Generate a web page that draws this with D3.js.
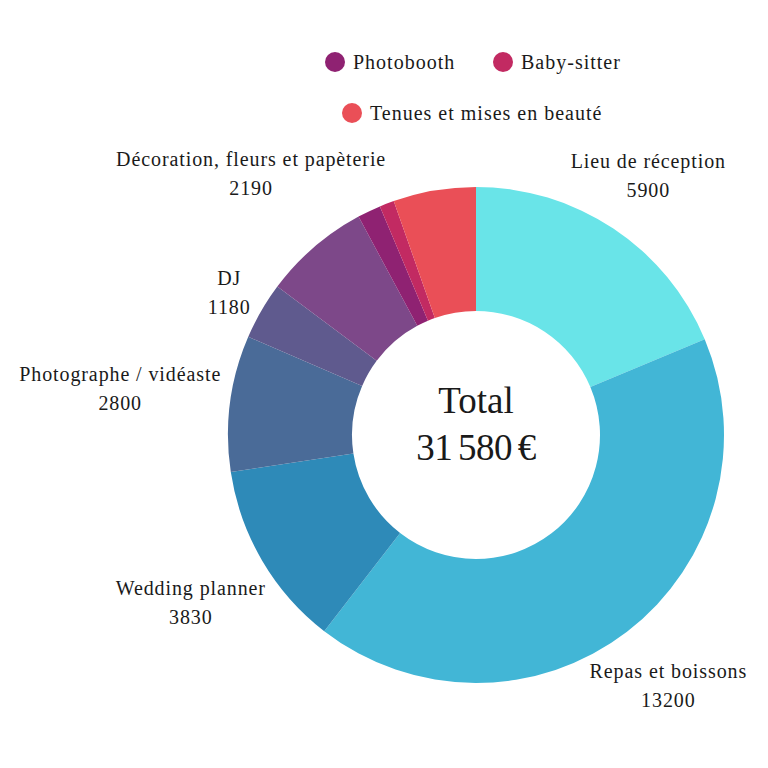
<!DOCTYPE html>
<html>
<head>
<meta charset="utf-8">
<script src="https://cdn.jsdelivr.net/npm/d3@7"></script>
<style>
  body { margin: 0; background: #fff; }
  text { font-family: "Liberation Serif", serif; fill: #1a1a1a; }
</style>
</head>
<body>
<svg id="chart" width="768" height="768"></svg>
<script>
// postes de budget, dans le sens horaire depuis midi
var categories = ["Lieu de réception", "Repas et boissons", "Wedding planner", "Photographe / vidéaste",
    "DJ", "Décoration, fleurs et papèterie", "Photobooth", "Baby-sitter", "Tenues et mises en beauté"];
var values = [5900, 13200, 3830, 2800, 1180, 2190, 480, 300, 1700];
var colors = ["#69e4e8", "#42b6d6", "#2e8ab8", "#4a6b98", "#5f5a8e", "#7d4889", "#8f2272", "#c22a62", "#ea4f57"];
var labelled = ["Lieu de réception", "Repas et boissons", "Wedding planner", "Photographe / vidéaste",
    "DJ", "Décoration, fleurs et papèterie"];
var legendItems = ["Photobooth", "Baby-sitter", "Tenues et mises en beauté"];
var totalLabel = "31 580 €";

var svg = d3.select("#chart");
var cx = 476, cy = 435;
var outerR = 248, innerR = 124, labelR = 256;

var data = categories.map(function (c, i) { return {name: c, value: values[i]}; });
var color = d3.scaleOrdinal().domain(categories).range(colors);

var pie = d3.pie().value(function (d) { return d.value; }).sort(null);
var arc = d3.arc().innerRadius(innerR).outerRadius(outerR);
var arcs = pie(data);

var g = svg.append("g").attr("transform", "translate(" + cx + "," + cy + ")");
g.selectAll(".slice").data(arcs).enter().append("path")
    .attr("class", "slice")
    .attr("d", arc)
    .attr("fill", function (d) { return color(d.data.name); });

// total au centre
g.append("text").attr("text-anchor", "middle").attr("y", -22).attr("font-size", "37px").text("Total");
g.append("text").attr("text-anchor", "middle").attr("y", 25).attr("font-size", "37px")
    .attr("word-spacing", "-3px").attr("letter-spacing", "-0.5px").text(totalLabel);

// distance du centre au point le plus proche d'une boite
function nearest(x, y, w, h) {
    var dx = Math.max(0, Math.abs(x) - w / 2), dy = Math.max(0, Math.abs(y) - h / 2);
    return Math.sqrt(dx * dx + dy * dy);
}

// etiquettes exterieures : centre sur le rayon median, boite poussee hors du cercle labelR
arcs.filter(function (d) { return labelled.indexOf(d.data.name) >= 0; }).forEach(function (d) {
    var a = (d.startAngle + d.endAngle) / 2;
    var s = Math.sin(a), c = -Math.cos(a);
    var lg = g.append("g");
    lg.append("text").attr("text-anchor", "middle").attr("font-size", "20px").attr("letter-spacing", "0.9px").text(d.data.name);
    lg.append("text").attr("text-anchor", "middle").attr("font-size", "20px").attr("letter-spacing", "0.9px").attr("y", 29).text(d.data.value);
    var bb = lg.node().getBBox();
    var top = -13.5, bottom = 29, w = bb.width, h = bottom - top;
    var lo = 0, hi = 600;
    for (var k = 0; k < 40; k++) {
        var mid = (lo + hi) / 2;
        if (nearest(mid * s, mid * c, w, h) < labelR) lo = mid; else hi = mid;
    }
    var bx = hi * s, by = hi * c;
    lg.attr("transform", "translate(" + (bx - (bb.x + bb.width / 2)) + "," + (by - (top + bottom) / 2) + ")");
});

// legende
var legendPos = [[335, 62], [503, 62], [352, 113]];
legendItems.forEach(function (name, i) {
    var p = legendPos[i];
    svg.append("circle").attr("cx", p[0]).attr("cy", p[1]).attr("r", 10).attr("fill", color(name));
    svg.append("text").attr("x", p[0] + 18).attr("y", p[1] + 7).attr("font-size", "20px")
        .attr("letter-spacing", "1px").text(name);
});
</script>
</body>
</html>
